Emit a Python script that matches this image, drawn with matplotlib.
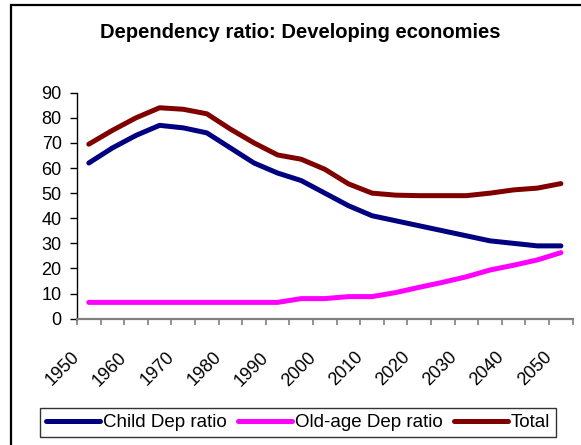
import matplotlib
matplotlib.use("Agg")
import matplotlib.pyplot as plt
from matplotlib.patches import Rectangle
import numpy as np

# data, 5-year steps 1950..2050
years = list(range(1950, 2055, 5))
child = [62, 68, 73, 77, 76, 74, 68, 62, 58, 55, 50, 45, 41, 39, 37, 35, 33, 31, 30, 29, 29]
old_age = [6.5, 6.5, 6.5, 6.5, 6.5, 6.5, 6.5, 6.5, 6.5, 8, 8, 8.8, 8.8, 10.4, 12.5, 14.5, 16.7, 19.4, 21.3, 23.4, 26.3]
total = [69.5, 75, 80, 84, 83.4, 81.6, 75.5, 70, 65.2, 63.5, 59.5, 53.7, 50, 49.2, 49, 49, 49, 50, 51.3, 52, 53.8]
tick_labels = [str(y) for y in range(1950, 2060, 10)]

plt.rcParams['font.family'] = ['Liberation Sans', 'DejaVu Sans']

fig = plt.figure(figsize=(5.81, 4.45), dpi=100)
# outer chart border (right/bottom edges fall outside the image)
fig.patches.append(Rectangle((11 / 581, -0.1), 1.0, 0.1 + 1 - 5.5 / 445,
                             transform=fig.transFigure, fill=False,
                             edgecolor='black', linewidth=1.6, zorder=0))

ax = fig.add_axes([77 / 581, 1 - 318.7 / 445, (572.7 - 77) / 581, (318.7 - 92.7) / 445])

x = np.arange(len(years)) + 0.5
ax.plot(x, child, color='#000080', lw=3.6, solid_capstyle='round', label='Child Dep ratio')
ax.plot(x, old_age, color='#FF00FF', lw=3.6, solid_capstyle='round', label='Old-age Dep ratio')
ax.plot(x, total, color='#800000', lw=3.6, solid_capstyle='round', label='Total')

ax.set_xlim(0, len(years))
ax.set_ylim(0, 90)
ax.set_yticks(range(0, 100, 10))
ax.set_xticks(range(0, len(years) + 1))
ax.set_xticklabels([tick_labels[i // 2] if i % 2 == 0 else '' for i in range(len(years) + 1)])

for lab in ax.get_xticklabels():
    lab.set_rotation(45)
    lab.set_ha('right')
    lab.set_va('center')
    lab.set_rotation_mode('anchor')

ax.tick_params(axis='x', direction='out', length=4, width=1.2, color='#808080',
               labelsize=13, pad=22)
ax.tick_params(axis='y', direction='out', length=5, width=1, color='black',
               labelsize=13, pad=6)

ax.spines['top'].set_visible(False)
ax.spines['right'].set_visible(False)
ax.spines['left'].set_color('black')
ax.spines['left'].set_linewidth(1)
ax.spines['bottom'].set_color('#808080')
ax.spines['bottom'].set_linewidth(1.6)

fig.text(300 / 581, 1 - 32 / 445, 'Dependency ratio: Developing economies',
         ha='center', va='center', fontsize=14.5, fontweight='bold')

leg = fig.legend(loc='center', bbox_to_anchor=(298 / 581, 1 - 422.5 / 445), ncol=3,
                 fontsize=13.5, frameon=True, fancybox=False, handlelength=2.9,
                 handletextpad=0.15, columnspacing=0.6, borderpad=0.3)
leg.get_frame().set_edgecolor('black')
leg.get_frame().set_linewidth(1)

fig.savefig('out.png', dpi=100)
